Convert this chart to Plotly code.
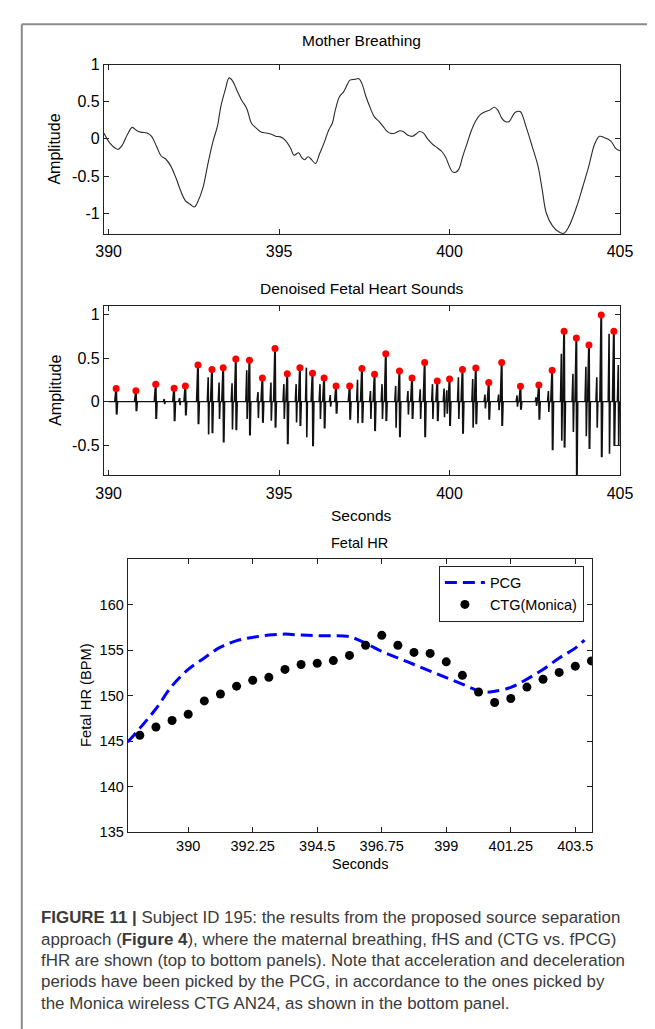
import plotly.graph_objects as go

W, H = 655, 1029

# ---------------- data ----------------
# Panel 1: Mother breathing
breath_t = [389.86, 390.03, 390.21, 390.28, 390.40, 390.55, 390.69, 390.83, 390.97, 391.13, 391.26,
            391.40, 391.54, 391.68, 391.82, 391.97, 392.11, 392.25, 392.39, 392.51, 392.63, 392.77,
            392.91, 393.05, 393.20, 393.29, 393.43, 393.53, 393.62, 393.76, 393.90, 394.05, 394.19,
            394.33, 394.47, 394.62, 394.76, 394.90, 395.04, 395.19, 395.33, 395.44, 395.57, 395.66,
            395.75, 395.85, 395.94, 396.07, 396.18, 396.32, 396.46, 396.56, 396.65, 396.77, 396.89,
            396.99, 397.08, 397.22, 397.34, 397.43, 397.55, 397.68, 397.79, 397.93, 398.05, 398.17,
            398.26, 398.41, 398.55, 398.66, 398.78, 398.91, 399.02, 399.12, 399.23, 399.35, 399.49,
            399.64, 399.78, 399.89, 399.99, 400.08, 400.18, 400.27, 400.39, 400.52, 400.63, 400.77,
            400.91, 401.06, 401.19, 401.31, 401.41, 401.53, 401.63, 401.74, 401.92, 402.07, 402.25,
            402.43, 402.60, 402.72, 402.84, 403.02, 403.20, 403.35, 403.51, 403.73, 403.91, 404.08,
            404.26, 404.40, 404.56, 404.73, 404.88, 405.00]
breath_v = [0.08, -0.053, -0.13, -0.14, -0.084, 0.058, 0.155, 0.11, 0.088, 0.08, 0.035,
            -0.097, -0.23, -0.274, -0.363, -0.52, -0.695, -0.83, -0.88, -0.916, -0.83, -0.65,
            -0.34, -0.053, 0.19, 0.434, 0.677, 0.82, 0.79, 0.655, 0.52, 0.41, 0.21,
            0.146, 0.093, 0.08, 0.066, 0.035, 0.027, -0.022, -0.12, -0.22, -0.186, -0.25,
            -0.28, -0.24, -0.274, -0.33, -0.21, -0.053, 0.124, 0.21, 0.39, 0.566, 0.633,
            0.72, 0.79, 0.80, 0.81, 0.743, 0.566, 0.41, 0.30, 0.235, 0.168, 0.10,
            0.075, 0.08, 0.11, 0.093, 0.049, 0.035, 0.066, 0.10, 0.08, 0.004, -0.066,
            -0.12, -0.173, -0.25, -0.363, -0.44, -0.45, -0.41, -0.23, -0.053, 0.10, 0.243,
            0.33, 0.367, 0.39, 0.425, 0.39, 0.28, 0.235, 0.23, 0.354, 0.367, 0.155,
            -0.11, -0.376, -0.69, -1.0, -1.17, -1.25, -1.27, -1.17, -0.91, -0.64, -0.376,
            -0.066, 0.035, 0.013, -0.03, -0.13, -0.16]

# Panel 2: denoised fetal heart sounds (S1 peaks marked, trough of each burst, secondary bursts)
s1_t = [390.22, 390.80, 391.38, 391.92, 392.25, 392.62, 393.03, 393.36, 393.73, 394.13, 394.51,
        394.88, 395.24, 395.61, 395.98, 396.32, 396.67, 397.07, 397.43, 397.80, 398.13, 398.53,
        398.90, 399.27, 399.64, 400.00, 400.38, 400.77, 401.15, 401.53, 402.08, 402.62, 403.01,
        403.36, 403.72, 404.09, 404.45, 404.82]
s1_peak = [0.15, 0.124, 0.20, 0.154, 0.18, 0.42, 0.37, 0.39, 0.49, 0.475, 0.27,
           0.61, 0.32, 0.39, 0.325, 0.27, 0.18, 0.18, 0.38, 0.315, 0.55, 0.35,
           0.27, 0.45, 0.236, 0.26, 0.37, 0.385, 0.22, 0.45, 0.176, 0.19, 0.36,
           0.81, 0.73, 0.65, 0.995, 0.81]
s1_trough = [-0.15, -0.11, -0.20, -0.225, -0.16, -0.26, -0.365, -0.47, -0.33, -0.39, -0.245,
             -0.30, -0.49, -0.28, -0.515, -0.31, -0.14, -0.21, -0.245, -0.34, -0.225, -0.41,
             -0.20, -0.41, -0.225, -0.28, -0.37, -0.26, -0.21, -0.28, -0.094, -0.21, -0.56,
             -0.53, -0.85, -0.545, -0.64, -0.51]
s2_t = [391.63, 392.08, 392.92, 393.24, 393.62, 394.05, 394.38, 394.76, 395.14, 395.50, 395.80,
        396.20, 396.50, 397.30, 397.68, 398.02, 398.42, 398.78, 399.14, 399.50, 399.84, 399.92,
        400.26, 400.68, 401.04, 401.44, 401.98, 402.54, 402.90, 403.28, 403.62, 404.00, 404.32,
        404.68, 404.95]
s2_hi = [0.03, 0.04, 0.28, 0.22, 0.21, 0.36, 0.11, 0.22, 0.20, 0.20, 0.39,
         0.20, 0.075, 0.25, 0.12, 0.20, 0.18, 0.12, 0.14, 0.20, 0.15, 0.13,
         0.28, 0.26, 0.08, 0.08, 0.07, 0.05, 0.12, 0.55, 0.32, 0.40, 0.28,
         0.78, 0.42]
s2_lo = [-0.03, -0.04, -0.38, -0.20, -0.32, -0.20, -0.19, -0.22, -0.20, -0.24, -0.41,
         -0.20, -0.06, -0.25, -0.20, -0.20, -0.30, -0.15, -0.20, -0.20, -0.18, -0.14,
         -0.20, -0.30, -0.08, -0.10, -0.06, -0.05, -0.12, -0.45, -0.35, -0.40, -0.30,
         -0.60, -0.50]

# Panel 3: fetal heart rate
pcg_t = [387.89, 388.31, 388.875, 389.44, 390.0, 390.56, 391.125, 391.69, 392.25, 392.81, 393.375,
         393.94, 394.5, 395.06, 395.625, 396.19, 396.75, 397.31, 397.875, 398.44, 399.0, 399.56,
         400.125, 400.41, 400.69, 401.25, 401.81, 402.375, 402.94, 403.5, 403.82]
pcg_hr = [144.9, 146.4, 148.56, 151.08, 152.88, 154.14, 155.32, 156.04, 156.4, 156.65, 156.76,
          156.65, 156.58, 156.58, 156.47, 155.75, 154.86, 154.14, 153.42, 152.7, 151.98, 151.26,
          150.54, 150.36, 150.47, 150.9, 151.8, 152.88, 154.14, 155.22, 156.1]
ctg_t = [388.3125, 388.875, 389.4375, 390.0, 390.5625, 391.125, 391.6875, 392.25, 392.8125, 393.375,
         393.9375, 394.5, 395.0625, 395.625, 396.1875, 396.75, 397.3125, 397.875, 398.4375, 399.0,
         399.5625, 400.125, 400.6875, 401.25, 401.8125, 402.375, 402.9375, 403.5, 404.0625]
ctg_hr = [145.65, 146.55, 147.27, 147.95, 149.42, 150.18, 151.04, 151.69, 152.01, 152.88,
          153.42, 153.56, 153.85, 154.42, 155.54, 156.62, 155.54, 154.75, 154.64, 153.71,
          152.23, 150.40, 149.24, 149.68, 150.94, 151.80, 152.55, 153.24, 153.81]

hr_ticks = [390, 392.25, 394.5, 396.75, 399, 401.25, 403.5]
hr_ticklabels = ["390", "392.25", "394.5", "396.75", "399", "401.25", "403.5"]

caption_lines = [
    "<b>FIGURE 11 |</b> Subject ID 195: the results from the proposed source separation",
    "approach (<b>Figure 4</b>), where the maternal breathing, fHS and (CTG vs. fPCG)",
    "fHR are shown (top to bottom panels). Note that acceleration and deceleration",
    "periods have been picked by the PCG, in accordance to the ones picked by",
    "the Monica wireless CTG AN24, as shown in the bottom panel.",
]

# ---------------- helpers ----------------
def px(x):
    return x / W

def py(y):
    return 1 - y / H

FONT = "Liberation Sans, Arial, sans-serif"

# heart-sound bursts drawn as zig-zag paths through the read values
s1_x, s1_y = [], []
for t, hi, lo in zip(s1_t, s1_peak, s1_trough):
    s1_x += [t - 0.035, t, t + 0.015, t + 0.035, None]
    s1_y += [0, hi, lo, 0, None]
s2_x, s2_y = [], []
for t, hi, lo in zip(s2_t, s2_hi, s2_lo):
    s2_x += [t - 0.025, t, t + 0.012, t + 0.03, None]
    s2_y += [0, hi, lo, 0, None]

fig = go.Figure()

fig.add_trace(go.Scatter(x=breath_t, y=breath_v, mode="lines", line=dict(color="#2a2a2a", width=1.1),
                         line_shape="spline", xaxis="x", yaxis="y", showlegend=False))

fig.add_trace(go.Scatter(x=[390, 405], y=[0, 0], mode="lines", line=dict(color="#111", width=1.2),
                         xaxis="x2", yaxis="y2", showlegend=False))
fig.add_trace(go.Scatter(x=s2_x, y=s2_y, mode="lines", line=dict(color="#111", width=1.6),
                         xaxis="x2", yaxis="y2", showlegend=False))
fig.add_trace(go.Scatter(x=s1_x, y=s1_y, mode="lines", line=dict(color="#111", width=2),
                         xaxis="x2", yaxis="y2", showlegend=False))
fig.add_trace(go.Scatter(x=s1_t, y=s1_peak, mode="markers", marker=dict(color="#ff0000", size=7),
                         xaxis="x2", yaxis="y2", showlegend=False))

fig.add_trace(go.Scatter(x=pcg_t, y=pcg_hr, mode="lines", name="PCG", line_shape="spline",
                         line=dict(color="#0000ff", width=3, dash="12px,6px"), xaxis="x3", yaxis="y3"))
fig.add_trace(go.Scatter(x=ctg_t, y=ctg_hr, mode="markers", name="CTG(Monica)",
                         marker=dict(color="black", size=9), xaxis="x3", yaxis="y3"))

def axis(size, **kw):
    d = dict(showline=True, linecolor="#222", linewidth=1, mirror="ticks", ticks="inside",
             ticklen=5, tickcolor="#222", showgrid=False, zeroline=False,
             tickfont=dict(family=FONT, size=size, color="black"))
    d.update(kw)
    return d

top_dom = [py(221.5), py(49.3)]
mid_dom = [py(466.7), py(294.5)]
bot_dom = [py(829), py(551.7)]
xdom12 = [px(90.8), px(624)]
xdom3 = [px(115.4), px(595)]

fig.update_layout(
    width=W, height=H, margin=dict(l=0, r=0, t=0, b=0),
    paper_bgcolor="white", plot_bgcolor="white",
    xaxis=axis(16, domain=xdom12, anchor="y", range=[389.86, 405], tickvals=[390, 395, 400, 405],
               ticklabelstandoff=3),
    yaxis=axis(16, domain=top_dom, anchor="x", range=[-1.28, 1], tickvals=[-1, -0.5, 0, 0.5, 1],
               ticktext=["-1", "-0.5", "0", "0.5", "1"]),
    xaxis2=axis(16, domain=xdom12, anchor="y2", range=[389.86, 405], tickvals=[390, 395, 400, 405],
                ticklabelstandoff=3),
    yaxis2=axis(16, domain=mid_dom, anchor="x2", range=[-0.85, 1.1], tickvals=[-0.5, 0, 0.5, 1],
                ticktext=["-0.5", "0", "0.5", "1"]),
    xaxis3=axis(14.5, domain=xdom3, anchor="y3", range=[387.89, 404.08], tickvals=hr_ticks,
                ticktext=hr_ticklabels),
    yaxis3=axis(14.5, domain=bot_dom, anchor="x3", range=[135, 165],
                tickvals=[135, 140, 145, 150, 155, 160]),
    legend=dict(x=px(586.7), y=py(558.3), xanchor="right", yanchor="top", bgcolor="white",
                bordercolor="#222", borderwidth=1, font=dict(family=FONT, size=14.5, color="black"),
                tracegroupgap=0, itemwidth=40),
    showlegend=True,
)

annots = []
def txt(x, y, s, size=14, angle=0, xanchor="center", yanchor="middle"):
    annots.append(dict(x=px(x), y=py(y), xref="paper", yref="paper", text=s, showarrow=False,
                       textangle=angle, xanchor=xanchor, yanchor=yanchor,
                       font=dict(family=FONT, size=size, color="black")))

txt(357, 25, "Mother Breathing", 15.5)
txt(357, 276.7, "Denoised Fetal Heart Sounds", 15.5)
txt(355, 535, "Fetal HR", 14.5)
txt(40, 135, "Amplitude", 16, -90)
txt(40, 380, "Amplitude", 16, -90)
txt(357, 507, "Seconds", 15.5)
txt(73, 690, "Fetal HR (BPM)", 14.7, -90)
txt(355, 861, "Seconds", 14.5)
for i, line in enumerate(caption_lines):
    annots.append(dict(x=px(24), y=py(916 + i * 21.7), xref="paper", yref="paper", text=line,
                       showarrow=False, xanchor="left", yanchor="middle",
                       font=dict(family=FONT, size=16.9, color="#3a3a3a")))
fig.update_layout(annotations=annots)

fig.update_layout(shapes=[
    dict(type="line", xref="paper", yref="paper", x0=px(6), x1=1, y0=py(8.3), y1=py(8.3),
         line=dict(color="#8a8a8a", width=2)),
    dict(type="line", xref="paper", yref="paper", x0=px(6), x1=px(6), y0=py(8.3), y1=0,
         line=dict(color="#8a8a8a", width=2)),
])

fig.write_html("out.html")
